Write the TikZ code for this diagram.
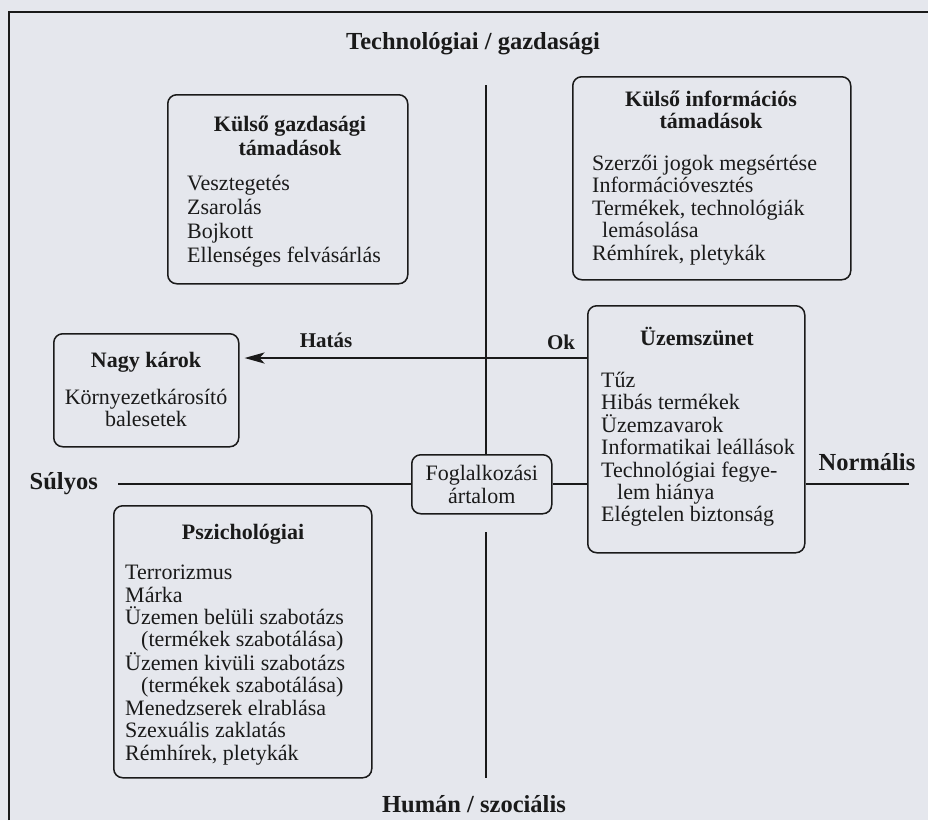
\documentclass[tikz,border=0pt]{standalone}
\usepackage{fontspec}
\setmainfont{Liberation Serif}
\usepackage{tikz}
\usetikzlibrary{arrows.meta}
\usetikzlibrary{positioning}
\definecolor{paper}{HTML}{E5E7ED}
\definecolor{ink}{HTML}{1A1A1A}

\begin{document}
\begin{tikzpicture}[x=1pt,y=-1pt,
    every node/.style={text=ink,font=\fontsize{22}{22.4}\selectfont,inner sep=0pt},
    box/.style={draw=ink,line width=1.5pt,rounded corners=9pt,anchor=north west},
    head/.style={font=\fontsize{22}{22.4}\selectfont\bfseries,align=center},
    axlabel/.style={font=\fontsize{24.5}{26}\selectfont\bfseries},
    list/.style={align=left,anchor=north west},
    axis/.style={draw=ink,line width=2.6pt}]
    % paper and frame
    \fill[paper] (0,0) rectangle (928,820);
    \useasboundingbox (0,0) rectangle (928,820);
    \draw[ink,line width=1.8pt] (9,820) -- (9,12) -- (928,12);

    % x-position of the vertical axis, y-positions of the two horizontal ones
    \def\xax{486}
    \def\yok{358}
    \def\ysul{484}

    % axis labels
    \node[axlabel] (tech)   at (473,44)  {Technológiai / gazdasági};
    \node[axlabel] (human)  at (474,804) {Humán / szociális};
    \node[axlabel] (normal) at (867,462) {Normális};
    \node[head,font=\fontsize{21}{22}\selectfont\bfseries] (ok)    at (561,342) {Ok};
    \node[head,font=\fontsize{21}{22}\selectfont\bfseries] (hatas) at (326,340) {Hatás};

    % upper left box
    \node[box,minimum width=240,minimum height=189] (gazd) at (167,94) {};
    \node[head,font=\fontsize{22}{24}\selectfont\bfseries] (gazdhead) at (290,136) {Külső gazdasági\\támadások};
    \node[list,font=\fontsize{22}{24}\selectfont] (gazdlist) at (187,175) {Vesztegetés\\Zsarolás\\Bojkott\\Ellenséges felvásárlás};

    % upper right box
    \node[box,minimum width=278,minimum height=203] (info) at (572,76) {};
    \node[head] (infohead) at (711,110) {Külső információs\\támadások};
    \node[list] (infolist) at (592,155) {Szerzői jogok megsértése\\Információvesztés\\Termékek, technológiák\\\hspace*{10pt}lemásolása\\Rémhírek, pletykák};

    % left box
    \node[box,minimum width=185,minimum height=113] (nagy) at (53,333) {};
    \node[head] (nagyhead) at (146,362) {Nagy károk};
    \node[align=center,anchor=north] (nagylist) at (146,389) {Környezetkárosító\\balesetek};

    % right box
    \node[box,minimum width=217,minimum height=247] (uzem) at (587,305) {};
    \node[head] (uzemhead) at (697,336) {Üzemszünet};
    \node[list] (uzemlist) at (601,372) {Tűz\\Hibás termékek\\Üzemzavarok\\Informatikai leállások\\Technológiai fegye-\\\hspace*{16pt}lem hiánya\\Elégtelen biztonság};

    % lower box
    \node[box,minimum width=258,minimum height=272] (pszi) at (113,505) {};
    \node[head] (pszihead) at (243,534) {Pszichológiai};
    \node[list] (pszilist) at (125,565) {Terrorizmus\\Márka\\Üzemen belüli szabotázs\\\hspace*{16pt}(termékek szabotálása)\\Üzemen kivüli szabotázs\\\hspace*{16pt}(termékek szabotálása)\\Menedzserek elrablása\\Szexuális zaklatás\\Rémhírek, pletykák};

    % centre box
    \node[box,minimum width=140,minimum height=59,align=center] (fogl) at (411,454) {Foglalkozási\\ártalom};

    % axes
    \coordinate (vtop) at (\xax,85);
    \coordinate (vlow) at (\xax,532);
    \coordinate (vend) at (\xax,778);
    \coordinate (okpt) at (\xax,\yok);
    \coordinate (sulstart) at (118,\ysul);
    \coordinate (normend) at (909,\ysul);
    \node[axlabel,left=20pt of sulstart] (sulyos) {Súlyos};

    \draw[axis] (vtop) -- (vtop |- fogl.north);
    \draw[axis] (vlow) -- (vend);
    \draw[axis,-{Stealth[length=20pt,width=11pt,inset=5pt]},shorten >=5pt] (uzem.west |- okpt) -- (nagy.east |- okpt);
    \draw[axis] (sulstart) -- (fogl.west |- sulstart);
    \draw[axis] (fogl.east |- sulstart) -- (uzem.west |- sulstart);
    \draw[axis] (uzem.east |- sulstart) -- (normend);
\end{tikzpicture}
\end{document}
